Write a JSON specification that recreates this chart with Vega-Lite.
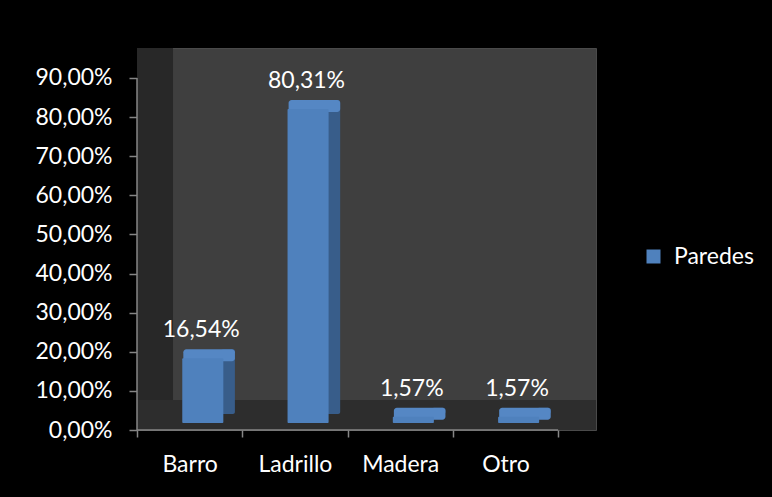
{
  "$schema": "https://vega.github.io/schema/vega-lite/v6.json",
  "width": 459,
  "height": 382,
  "autosize": "none",
  "padding": {"left": 137, "top": 48, "right": 176, "bottom": 67},
  "background": "#000000",
  "config": {
    "locale": {"number": {"decimal": ",", "thousands": ".", "grouping": [3], "currency": ["", " €"]}},
    "view": {"fill": "#3f3f3f", "stroke": "#4a4a4a"},
    "font": "Lato",
    "axis": {"labelFont": "Lato", "labelColor": "#ffffff", "labelFontSize": 23, "tickColor": "#868686", "tickWidth": 1.5, "domain": false, "grid": false, "title": null}
  },
  "data": {"values": [
    {"material": "Barro", "porcentaje": 0.1654},
    {"material": "Ladrillo", "porcentaje": 0.8031},
    {"material": "Madera", "porcentaje": 0.0157},
    {"material": "Otro", "porcentaje": 0.0157}
  ]},
  "layer": [
    {
      "data": {"values": [{}]},
      "mark": {"type": "rect", "color": "#282828"},
      "encoding": {
        "x": {"datum": "Barro", "type": "nominal", "bandPosition": 0,
              "scale": {"domain": ["Barro", "Ladrillo", "Madera", "Otro"], "paddingInner": 0, "paddingOuter": 0.18, "align": 0},
              "axis": {"tickBand": "extent", "tickSize": 7, "labelPadding": 16, "labelAngle": 0}},
        "x2": {"datum": "Barro", "bandPosition": 0.342},
        "y": {"datum": 0, "type": "quantitative",
              "scale": {"domain": [0, 0.9767], "nice": false, "zero": true},
              "axis": {"values": [0, 0.1, 0.2, 0.3, 0.4, 0.5, 0.6, 0.7, 0.8, 0.9], "format": ".2%", "tickSize": 8, "labelPadding": 17}},
        "y2": {"datum": 0.9767}
      }
    },
    {
      "data": {"values": [{}]},
      "mark": {"type": "rect", "color": "#2d2d2d"},
      "encoding": {
        "y": {"datum": 0, "type": "quantitative"},
        "y2": {"datum": 0.0767}
      }
    },
    {
      "mark": {"type": "bar", "color": "#385d8a", "yOffset": -16, "y2Offset": -16, "cornerRadius": 2},
      "encoding": {
        "x": {"field": "material", "type": "nominal", "bandPosition": 0.8},
        "x2": {"field": "material", "bandPosition": 0.93},
        "y": {"field": "porcentaje", "type": "quantitative"},
        "y2": {"datum": 0}
      }
    },
    {
      "mark": {"type": "rect", "color": "#5587c4", "yOffset": -16, "y2Offset": -4, "cornerRadius": 3},
      "encoding": {
        "x": {"field": "material", "type": "nominal", "bandPosition": 0.44},
        "x2": {"field": "material", "bandPosition": 0.93},
        "y": {"field": "porcentaje", "type": "quantitative"},
        "y2": {"field": "porcentaje"}
      }
    },
    {
      "mark": {"type": "bar", "yOffset": -7, "y2Offset": -7, "cornerRadius": 1},
      "encoding": {
        "x": {"field": "material", "type": "nominal", "bandPosition": 0.43},
        "x2": {"field": "material", "bandPosition": 0.82},
        "y": {"field": "porcentaje", "type": "quantitative"},
        "y2": {"datum": 0},
        "color": {"datum": "Paredes", "type": "nominal", "scale": {"range": ["#4f81bd"]},
                  "legend": {"orient": "none", "legendX": 505, "legendY": 197, "title": null, "symbolType": "square", "symbolSize": 196, "symbolStrokeWidth": 0, "symbolOpacity": 1, "labelColor": "#ffffff", "labelFont": "Lato", "labelFontSize": 23, "labelOffset": 9}}
      }
    },
    {
      "mark": {"type": "text", "color": "#ffffff", "font": "Lato", "fontSize": 23, "baseline": "alphabetic", "dy": -28},
      "encoding": {
        "x": {"field": "material", "type": "nominal", "bandPosition": 0.61},
        "y": {"field": "porcentaje", "type": "quantitative"},
        "text": {"field": "porcentaje", "type": "quantitative", "format": ".2%"}
      }
    },
    {
      "data": {"values": [{}]},
      "mark": {"type": "rule", "color": "#868686", "strokeWidth": 1.5},
      "encoding": {
        "x": {"datum": "Barro", "type": "nominal", "bandPosition": 0},
        "y": {"datum": 0, "type": "quantitative"},
        "y2": {"datum": 0.9}
      }
    },
    {
      "data": {"values": [{}]},
      "mark": {"type": "rule", "color": "#868686", "strokeWidth": 1.5},
      "encoding": {
        "x": {"datum": "Barro", "type": "nominal", "bandPosition": 0},
        "x2": {"datum": "Otro", "bandPosition": 1},
        "y": {"datum": 0, "type": "quantitative"}
      }
    }
  ]
}
